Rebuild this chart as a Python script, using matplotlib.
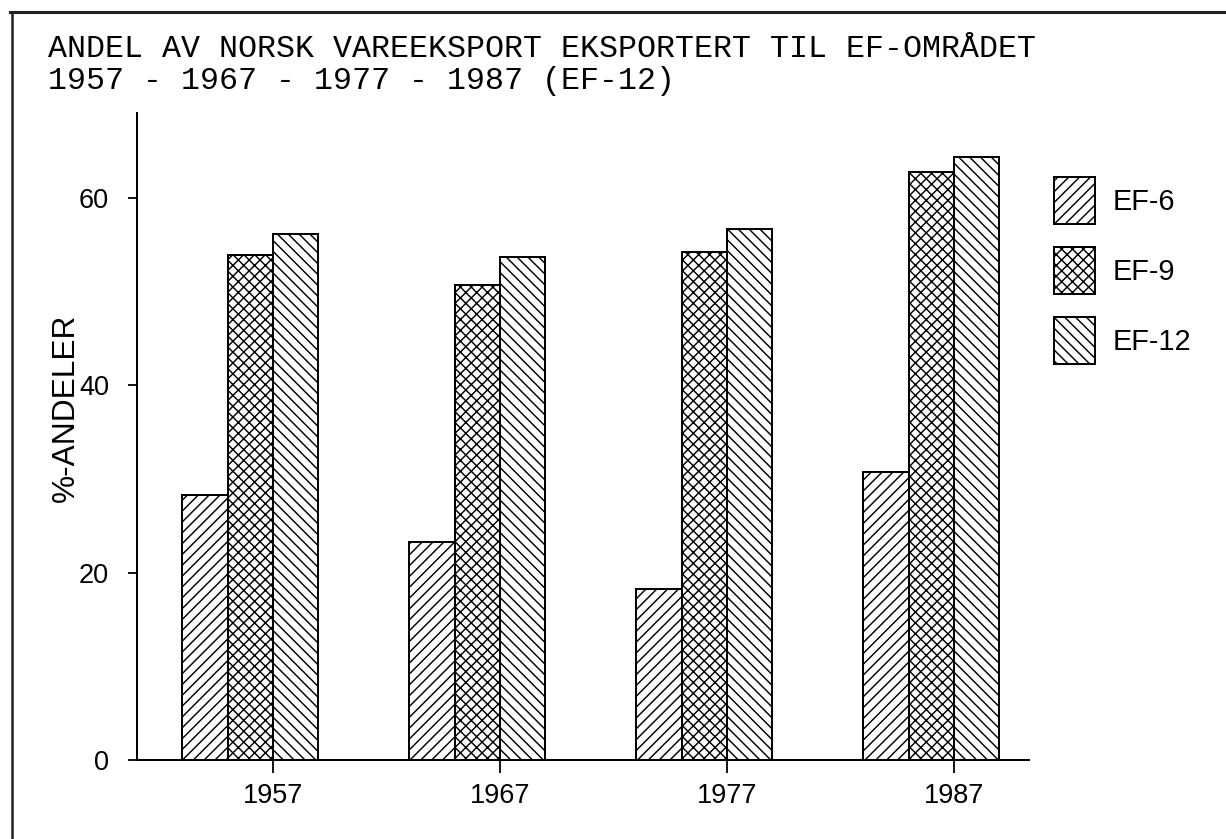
import matplotlib
matplotlib.use("Agg")
import matplotlib.pyplot as plt
from matplotlib.lines import Line2D
import numpy as np

years = ["1957", "1967", "1977", "1987"]
series_names = ["EF-6", "EF-9", "EF-12"]
ef6 = [28.3, 23.3, 18.2, 30.7]
ef9 = [53.9, 50.7, 54.2, 62.8]
ef12 = [56.1, 53.7, 56.7, 64.4]
yticks = [0, 20, 40, 60]
title_line1 = "ANDEL AV NORSK VAREEKSPORT EKSPORTERT TIL EF-OMRÅDET"
title_line2 = "1957 - 1967 - 1977 - 1987 (EF-12)"
ylabel = "%-ANDELER"

DPI = 130
W, H = 1226, 839
plt.rcParams['hatch.linewidth'] = 0.8
plt.rcParams['font.family'] = ['Liberation Sans', 'DejaVu Sans']

fig = plt.figure(figsize=(W / DPI, H / DPI), dpi=DPI, facecolor="white")
ax = fig.add_axes([137 / W, 1 - 760 / H, (1029 - 137) / W, (760 - 113) / H])

x = np.arange(len(years))
w = 0.2
hatches = ["////", "xxxx", "\\\\\\\\"]
data = [ef6, ef9, ef12]
offsets = [-1.5 * w, -0.5 * w, 0.5 * w]
handles = []
for vals, off, hat, name in zip(data, offsets, hatches, series_names):
    b = ax.bar(x + off, vals, width=w, facecolor="white", edgecolor="black",
               linewidth=1.1, hatch=hat, label=name, zorder=2)
    handles.append(b)

ax.set_xlim(-0.599, 3.33)
ax.set_ylim(0, 69.05)
ax.set_xticks(x)
ax.set_xticklabels(years, fontsize=15)
ax.set_yticks(yticks)
ax.set_yticklabels([str(v) for v in yticks], fontsize=15)
ax.tick_params(axis='x', length=7.2, width=1.0, pad=5.5, direction='out')
ax.tick_params(axis='y', length=5.0, width=1.0, pad=10.5, direction='out')
for s in ["top", "right"]:
    ax.spines[s].set_visible(False)
for s in ["left", "bottom"]:
    ax.spines[s].set_linewidth(1.1)

fig.text(66 / W, 1 - 408 / H, ylabel, rotation=90, ha="center", va="center",
         fontsize=17.5)

fig.text(48 / W, 1 - 57 / H, title_line1, family="Liberation Mono",
         fontsize=17.5, ha="left", va="baseline")
fig.text(48 / W, 1 - 89 / H, title_line2, family="Liberation Mono",
         fontsize=17.5, ha="left", va="baseline")

fs_leg = 16
px_per_em = fs_leg * DPI / 72
box_h = 47
hh = (box_h / px_per_em - 0.245) / 0.65
fig.legend(handles=handles, labels=series_names, loc="upper left",
           bbox_to_anchor=(1054 / W, 1 - 177 / H), frameon=False,
           fontsize=fs_leg, borderpad=0, borderaxespad=0,
           handlelength=41 / px_per_em, handleheight=hh,
           labelspacing=23 / px_per_em, handletextpad=18 / px_per_em)

# page frame lines (top and left)
fig.add_artist(Line2D([10 / W, 1.0], [1 - 12 / H, 1 - 12 / H],
                      transform=fig.transFigure, color="#222222", linewidth=1.7))
fig.add_artist(Line2D([12 / W, 12 / W], [1 - 12 / H, 0.0],
                      transform=fig.transFigure, color="#222222", linewidth=1.4))

fig.savefig("out.png", dpi=DPI, facecolor="white")
